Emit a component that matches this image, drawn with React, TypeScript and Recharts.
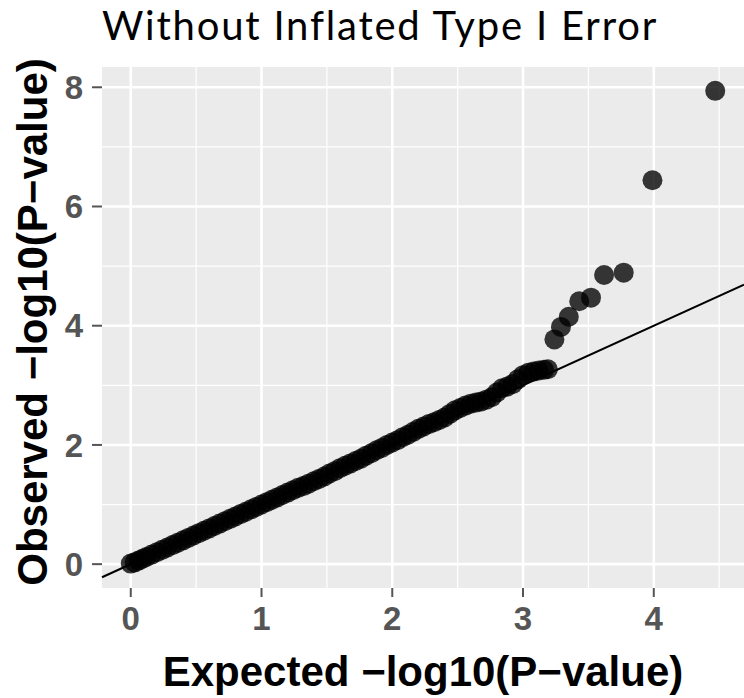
import React from 'react';
import {
  ScatterChart,
  Scatter,
  XAxis,
  YAxis,
  CartesianGrid,
  ReferenceLine,
} from 'recharts';

// expected vs observed -log10(p), the dense lower part of the QQ curve
const bandExpected = [
  0.0, 0.03, 0.06, 0.09, 0.12, 0.16, 0.2, 0.24, 0.28, 0.32, 0.36, 0.4, 0.44, 0.48, 0.52, 0.56,
  0.6, 0.64, 0.68, 0.72, 0.76, 0.8, 0.84, 0.88, 0.92, 0.96, 1.0, 1.04, 1.08, 1.12, 1.16, 1.2,
  1.24, 1.28, 1.32, 1.36, 1.4, 1.44, 1.48, 1.52, 1.56, 1.6, 1.64, 1.68, 1.72, 1.76, 1.8, 1.84,
  1.88, 1.92, 1.96, 2.0, 2.04, 2.08, 2.12, 2.16, 2.2, 2.24, 2.28, 2.32, 2.36, 2.4, 2.44, 2.48,
  2.52, 2.56, 2.6, 2.64, 2.68, 2.72, 2.76, 2.8, 2.84, 2.88, 2.92, 2.96, 3.0, 3.04, 3.08, 3.12,
  3.16, 3.19,
];
const bandObserved = [
  0.01, 0.03, 0.06, 0.09, 0.12, 0.16, 0.2, 0.24, 0.28, 0.32, 0.36, 0.4, 0.44, 0.48, 0.52, 0.56,
  0.6, 0.64, 0.68, 0.72, 0.76, 0.8, 0.84, 0.88, 0.92, 0.96, 1.0, 1.04, 1.08, 1.12, 1.16, 1.2,
  1.24, 1.28, 1.31, 1.35, 1.39, 1.43, 1.47, 1.52, 1.56, 1.61, 1.65, 1.69, 1.73, 1.77, 1.82, 1.86,
  1.91, 1.95, 2.0, 2.04, 2.08, 2.13, 2.17, 2.22, 2.27, 2.31, 2.35, 2.38, 2.42, 2.46, 2.52, 2.58,
  2.62, 2.66, 2.69, 2.71, 2.73, 2.76, 2.8, 2.88, 2.95, 2.98, 3.02, 3.1, 3.17, 3.21, 3.23, 3.25,
  3.26, 3.27,
];

// the upper tail, points that leave the diagonal
const tailExpected = [3.24, 3.29, 3.35, 3.43, 3.52, 3.62, 3.77, 3.99, 4.47];
const tailObserved = [3.77, 3.98, 4.15, 4.41, 4.47, 4.85, 4.89, 6.44, 7.94];

const xTicks = [0, 1, 2, 3, 4];
const yTicks = [0, 2, 4, 6, 8];
const xMinor = [0.5, 1.5, 2.5, 3.5, 4.5];
const yMinor = [1, 3, 5, 7];

const xDomain: [number, number] = [-0.22, 4.69];
const yDomain: [number, number] = [-0.4, 8.34];

const points = [
  ...bandExpected.map((x, i) => ({ x, y: bandObserved[i] })),
  ...tailExpected.map((x, i) => ({ x, y: tailObserved[i] })),
];

// y = x reference across the full panel
const diagonal = [
  { x: xDomain[0], y: xDomain[0] },
  { x: xDomain[1], y: xDomain[1] },
];

const axisFont = '"Liberation Sans", Arial, Helvetica, sans-serif';
const tickStyle = { fill: '#555555', fontSize: 33, fontWeight: 'bold', fontFamily: axisFont };
const tickLineStyle = { stroke: '#555555', strokeWidth: 2 };

const Dot = (props: any) => (
  <circle cx={props.cx} cy={props.cy} r={10} fill="#000" fillOpacity={0.78} />
);

export default function App() {
  return (
    <div style={{ position: 'absolute', left: 0, top: 0, width: 744, height: 698, background: '#fff' }}>
      <ScatterChart width={744} height={698} margin={{ top: 67, right: 0, bottom: 0, left: 0 }}>
        <CartesianGrid
          fill="#EBEBEB"
          fillOpacity={1}
          stroke="#ffffff"
          strokeWidth={1.2}
          horizontalValues={yMinor}
          verticalValues={xMinor}
        />
        <CartesianGrid
          stroke="#ffffff"
          strokeWidth={2.6}
          horizontalValues={yTicks}
          verticalValues={xTicks}
        />
        <XAxis
          type="number"
          dataKey="x"
          domain={xDomain}
          ticks={xTicks}
          allowDataOverflow
          height={110}
          tickSize={9}
          tickMargin={10}
          axisLine={false}
          tickLine={tickLineStyle}
          tick={tickStyle}
        />
        <YAxis
          type="number"
          dataKey="y"
          domain={yDomain}
          ticks={yTicks}
          allowDataOverflow
          width={102}
          tickSize={10}
          tickMargin={9}
          axisLine={false}
          tickLine={tickLineStyle}
          tick={tickStyle}
        />
        <Scatter data={points} shape={Dot} isAnimationActive={false} />
        <ReferenceLine segment={diagonal} stroke="#000" strokeWidth={2} />
      </ScatterChart>
      <svg
        width={744}
        height={698}
        style={{ position: 'absolute', left: 0, top: 0, pointerEvents: 'none' }}
      >
        <text
          x={380}
          y={40}
          textAnchor="middle"
          fontFamily='Lato, "Open Sans", sans-serif'
          fontSize={40}
          letterSpacing={1.8}
          fill="#000"
        >
          Without Inflated Type I Error
        </text>
        <text
          x={423}
          y={686}
          textAnchor="middle"
          fontFamily={axisFont}
          fontWeight="bold"
          fontSize={42}
          fill="#000"
        >
          Expected −log10(P−value)
        </text>
        <text
          x={47}
          y={322}
          transform="rotate(-90 47 322)"
          textAnchor="middle"
          fontFamily={axisFont}
          fontWeight="bold"
          fontSize={42}
          fill="#000"
        >
          Observed −log10(P−value)
        </text>
      </svg>
    </div>
  );
}
